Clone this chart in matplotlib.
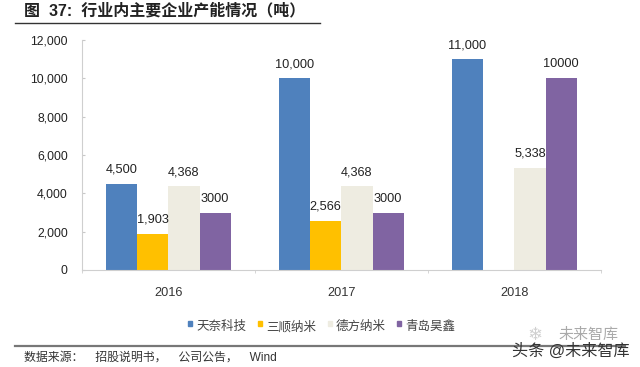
import matplotlib
matplotlib.use("Agg")
import matplotlib.pyplot as plt
import numpy as np

years = ["2016", "2017", "2018"]
series_names = ["天奈科技", "三顺纳米", "德方纳米", "青岛昊鑫"]
tiannai = [4500, 10000, 11000]
sanshun = [1903, 2566, 0]
defang = [4368, 4368, 5338]
qingdao = [3000, 3000, 10000]
labels_tiannai = ["4,500", "10,000", "11,000"]
labels_sanshun = ["1,903", "2,566", ""]
labels_defang = ["4,368", "4,368", "5,338"]
labels_qingdao = ["3000", "3000", "10000"]
yticks = [0, 2000, 4000, 6000, 8000, 10000, 12000]
title = "图  37:  行业内主要企业产能情况（吨）"
source = "数据来源：\u3000招股说明书，\u3000公司公告，\u3000Wind"
wm1 = "未来智库"
wm2 = "头条 @未来智库"

colors = ["#4f81bd", "#ffc000", "#eeece1", "#8064a2"]
plt.rcParams['font.family'] = ['Liberation Sans', 'Noto Sans CJK SC', 'DejaVu Sans']

fig = plt.figure(figsize=(6.4, 3.67), dpi=100)
W, H = 640, 367
ax = fig.add_axes([81.7/W, 1-270/H, (600.7-81.7)/W, (270-40)/H])
x = np.arange(3)
bw = 0.181
data = [tiannai, sanshun, defang, qingdao]
labs = [labels_tiannai, labels_sanshun, labels_defang, labels_qingdao]
for i, (d, l, c, n) in enumerate(zip(data, labs, colors, series_names)):
    pos = x + (i - 1.5) * bw
    ax.bar(pos, d, width=bw, color=c, label=n)
    for p, v, t in zip(pos, d, l):
        if t:
            ax.annotate(t, (p, v), xytext=(0, 10), textcoords='offset points',
                        ha='center', va='center', fontsize=9.2, color='#222222')
ax.set_xlim(-0.5, 2.5)
ax.set_ylim(0, 12000)
ax.set_yticks(yticks)
ax.set_yticklabels([f"{v:,}" for v in yticks], fontsize=8.8, color='#222222')
ax.set_xticks(x)
ax.set_xticklabels(years, fontsize=9.2, color='#333333')
ax.tick_params(axis='x', length=0, pad=12)
ax.tick_params(axis='y', length=2.5, direction='in', color='#c8c8c8', pad=10)
for s in ['top', 'right']:
    ax.spines[s].set_visible(False)
for s in ['left', 'bottom']:
    ax.spines[s].set_color('#cfcfcf')
ax.set_xticks([-0.5, 0.5, 1.5, 2.5], minor=True)
ax.tick_params(axis='x', which='minor', length=2.5, color='#cfcfcf')

# legend
leg_x = [188, 258, 328, 397]
for lx, n, c in zip(leg_x, series_names, colors):
    fig.add_artist(plt.Rectangle((lx/W, 1-326/H), 4/W, 5/H, color=c, transform=fig.transFigure))
    fig.text((lx+8)/W, 1-327/H, n, fontsize=9, va='center', ha='left', color='#444444')

# title, rules, source
fig.text(24/W, 1-11/H, title, fontsize=11.5, va='center', ha='left', color='#222222', fontweight='bold')
fig.add_artist(plt.Line2D([15/W, 320/W], [1-23/H, 1-23/H], color='#333333', lw=1.0))
fig.add_artist(plt.Line2D([15/W, 625/W], [1-345.5/H, 1-345.5/H], color='#777777', lw=1.6))
fig.text(24/W, 1-358/H, source, fontsize=8.6, va='center', ha='left', color='#333333')
fig.text(535/W, 1-336/H, "❄", fontsize=13, va='center', ha='center', color='#d0d0d0')
fig.text(558/W, 1-335/H, wm1, fontsize=10.8, va='center', ha='left', color='#aaaaaa')
fig.text(630/W, 1-351/H, wm2, fontsize=11.6, va='center', ha='right', color='#333333')

fig.savefig("out.png", dpi=100)
